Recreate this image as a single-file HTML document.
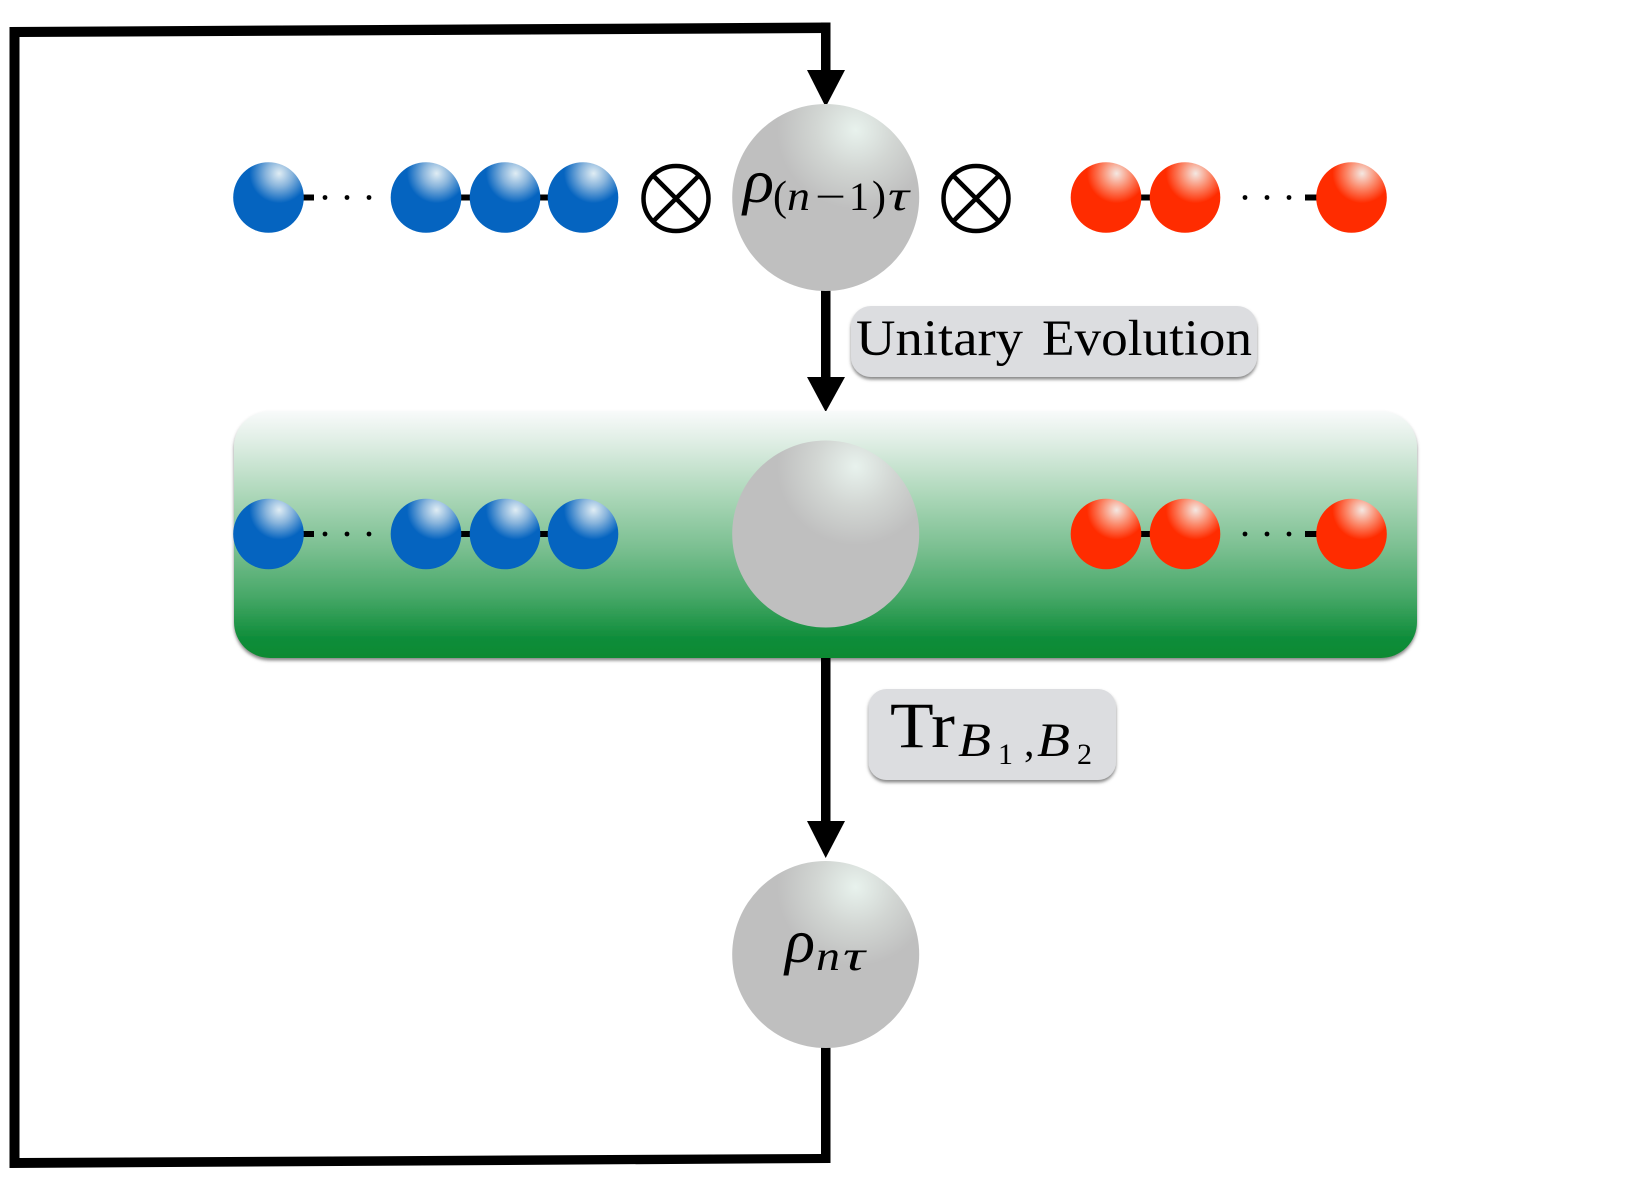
<!DOCTYPE html>
<html><head><meta charset="utf-8">
<style>html,body{margin:0;padding:0;background:#fff}svg{display:block}
text{font-family:"Liberation Serif",serif;fill:#000}</style></head>
<body>
<svg width="1646" height="1191" viewBox="0 0 1646 1191" xmlns="http://www.w3.org/2000/svg">
<defs>
<linearGradient id="g" x1="0" y1="0" x2="0" y2="1">
<stop offset="0" stop-color="#f8fafa"/><stop offset=".12" stop-color="#e0eee5"/><stop offset=".35" stop-color="#aad6b7"/><stop offset=".55" stop-color="#7cc092"/><stop offset=".75" stop-color="#47a868"/><stop offset=".92" stop-color="#0f8d3a"/><stop offset="1" stop-color="#088a32"/>
</linearGradient>
<radialGradient id="blue" gradientUnits="objectBoundingBox" cx=".65" cy=".16" r=".42"><stop offset="0" stop-color="#e0edf4"/><stop offset=".45" stop-color="#88b4dc"/><stop offset="1" stop-color="#0564c0"/></radialGradient>
<radialGradient id="red" cx=".65" cy=".16" r=".42"><stop offset="0" stop-color="#f4e8e2"/><stop offset=".5" stop-color="#fb8a6c"/><stop offset="1" stop-color="#ff2c00"/></radialGradient>
<radialGradient id="gray" cx=".66" cy=".14" r=".42"><stop offset="0" stop-color="#e8f2ed"/><stop offset=".5" stop-color="#d2d6d3"/><stop offset="1" stop-color="#bfbfbf"/></radialGradient>
<filter id="sh" x="-5%" y="-5%" width="110%" height="115%"><feDropShadow dx="0" dy="2.5" stdDeviation="1.5" flood-color="#555" flood-opacity=".7"/></filter>
</defs>
<rect width="1646" height="1191" fill="#fff"/>
<polygon points="9.5,27 830.5,22.5 830.5,33 19.5,37 19.5,1158 821,1154 821,1040 830.5,1040 830.5,1163 9.5,1168" fill="#000"/>
<rect x="821" y="22.5" width="9.5" height="60"/>
<polygon points="807,70 845,70 825.7,107" fill="#000"/>
<rect x="821" y="285" width="9.5" height="100"/>
<polygon points="807,377 845,377 825.7,412" fill="#000"/>
<rect x="851" y="306" width="406" height="71" rx="20" fill="#dcdde0" filter="url(#sh)"/>
<text x="856" y="355" font-size="51" textLength="167" lengthAdjust="spacingAndGlyphs">Unitary</text>
<text x="1042" y="355" font-size="51" textLength="210" lengthAdjust="spacingAndGlyphs">Evolution</text>
<rect x="234" y="411" width="1183" height="247" rx="36" fill="url(#g)" filter="url(#sh)"/>
<rect x="821" y="658" width="9.5" height="170"/>
<polygon points="807,821 845,821 825.7,858" fill="#000"/>
<rect x="868.5" y="689" width="247.5" height="91" rx="18" fill="#dcdde0" filter="url(#sh)"/>
<text x="890" y="747" font-size="65" textLength="65" lengthAdjust="spacingAndGlyphs">Tr</text>
<text x="958" y="756" font-size="48" font-style="italic" textLength="33" lengthAdjust="spacingAndGlyphs">B</text>
<text x="998" y="764" font-size="30">1</text>
<text x="1024" y="756" font-size="42">,</text>
<text x="1037" y="756" font-size="48" font-style="italic" textLength="33" lengthAdjust="spacingAndGlyphs">B</text>
<text x="1077" y="764" font-size="30">2</text>
<!-- row stubs and dots -->
<g fill="#000">
<rect x="300" y="194.5" width="14" height="6"/><rect x="455" y="194.5" width="20" height="6"/><rect x="534" y="194.5" width="20" height="6"/>
<rect x="1138" y="194.5" width="16" height="6"/><rect x="1305" y="194.5" width="14" height="6"/>
<circle cx="325" cy="197.5" r="2.4"/><circle cx="347" cy="197.5" r="2.4"/><circle cx="369" cy="197.5" r="2.4"/>
<circle cx="1245" cy="197.5" r="2.4"/><circle cx="1267" cy="197.5" r="2.4"/><circle cx="1289" cy="197.5" r="2.4"/>
<rect x="300" y="531" width="14" height="6"/><rect x="455" y="531" width="20" height="6"/><rect x="534" y="531" width="20" height="6"/>
<rect x="1138" y="531" width="16" height="6"/><rect x="1305" y="531" width="14" height="6"/>
<circle cx="325" cy="534" r="2.4"/><circle cx="347" cy="534" r="2.4"/><circle cx="369" cy="534" r="2.4"/>
<circle cx="1245" cy="534" r="2.4"/><circle cx="1267" cy="534" r="2.4"/><circle cx="1289" cy="534" r="2.4"/>
</g>
<g fill="url(#blue)">
<circle cx="268.5" cy="197.5" r="35.3"/><circle cx="426" cy="197.5" r="35.3"/><circle cx="505" cy="197.5" r="35.3"/><circle cx="583" cy="197.5" r="35.3"/>
<circle cx="268.5" cy="534" r="35.3"/><circle cx="426" cy="534" r="35.3"/><circle cx="505" cy="534" r="35.3"/><circle cx="583" cy="534" r="35.3"/>
</g>
<g fill="url(#red)">
<circle cx="1106" cy="197.5" r="35.3"/><circle cx="1185" cy="197.5" r="35.3"/><circle cx="1351.5" cy="197.5" r="35.3"/>
<circle cx="1106" cy="534" r="35.3"/><circle cx="1185" cy="534" r="35.3"/><circle cx="1351.5" cy="534" r="35.3"/>
</g>
<g fill="url(#gray)">
<circle cx="825.7" cy="197.5" r="93.5"/><circle cx="825.7" cy="534" r="93.5"/><circle cx="825.7" cy="954.5" r="93.5"/>
</g>
<g fill="none" stroke="#000" stroke-width="4.5">
<circle cx="676" cy="198.5" r="32.5"/><path d="M653,175.5L699,221.5M699,175.5L653,221.5"/>
<circle cx="976" cy="198.5" r="32.5"/><path d="M953,175.5L999,221.5M999,175.5L953,221.5"/>
</g>
<text x="743" y="202" font-size="62" font-style="italic" textLength="31" lengthAdjust="spacingAndGlyphs">ρ</text>
<text x="773" y="210" font-size="42">(</text>
<text x="787" y="210" font-size="42" font-style="italic" textLength="23" lengthAdjust="spacingAndGlyphs">n</text>
<text x="815" y="210" font-size="40" textLength="31" lengthAdjust="spacingAndGlyphs">−</text>
<text x="849" y="210" font-size="40">1</text>
<text x="872" y="210" font-size="42">)</text>
<text x="888" y="210" font-size="42" font-style="italic" textLength="21" lengthAdjust="spacingAndGlyphs">τ</text>
<text x="785" y="962" font-size="62" font-style="italic" textLength="30" lengthAdjust="spacingAndGlyphs">ρ</text>
<text x="816" y="970" font-size="42" font-style="italic" textLength="24" lengthAdjust="spacingAndGlyphs">n</text>
<text x="843" y="970" font-size="42" font-style="italic" textLength="22" lengthAdjust="spacingAndGlyphs">τ</text>
</svg>
</body></html>
